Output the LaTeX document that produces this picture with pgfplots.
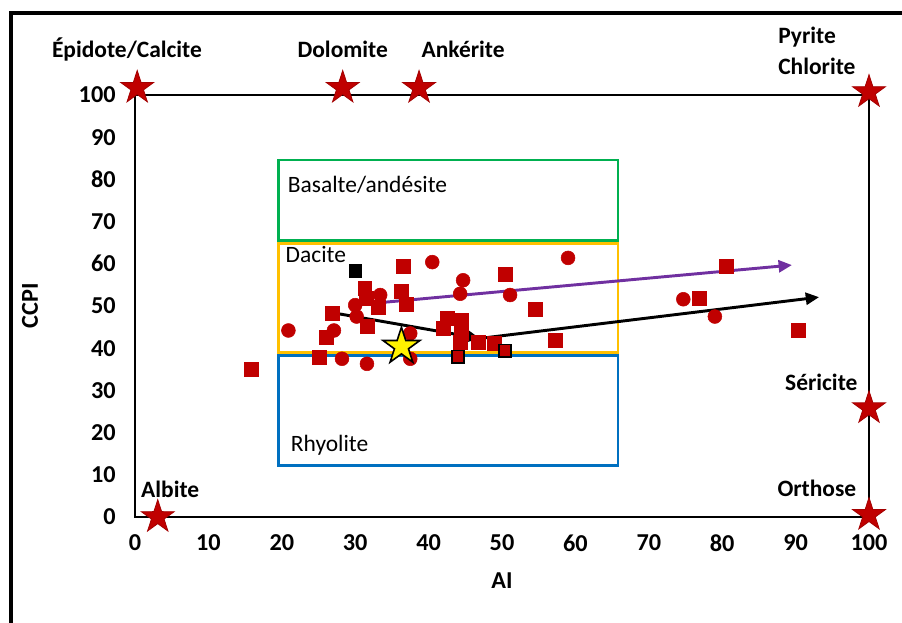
\documentclass[border=0pt]{standalone}
\usepackage{fontspec}
\setmainfont{Carlito}
\usepackage{pgfplots}
\pgfplotsset{compat=1.18}
\usetikzlibrary{arrows.meta}
\definecolor{dred}{HTML}{C00000}
\definecolor{xgreen}{HTML}{00B050}
\definecolor{xorange}{HTML}{FFC000}
\definecolor{xblue}{HTML}{0070C0}
\definecolor{xpurple}{HTML}{7030A0}
\pgfdeclareplotmark{fstar}{%
  \pgfpathmoveto{\pgfpointpolar{90}{\pgfplotmarksize}}%
  \pgfpathlineto{\pgfpointpolar{126}{0.382*\pgfplotmarksize}}%
  \pgfpathlineto{\pgfpointpolar{162}{\pgfplotmarksize}}%
  \pgfpathlineto{\pgfpointpolar{198}{0.382*\pgfplotmarksize}}%
  \pgfpathlineto{\pgfpointpolar{234}{\pgfplotmarksize}}%
  \pgfpathlineto{\pgfpointpolar{270}{0.382*\pgfplotmarksize}}%
  \pgfpathlineto{\pgfpointpolar{306}{\pgfplotmarksize}}%
  \pgfpathlineto{\pgfpointpolar{342}{0.382*\pgfplotmarksize}}%
  \pgfpathlineto{\pgfpointpolar{18}{\pgfplotmarksize}}%
  \pgfpathlineto{\pgfpointpolar{54}{0.382*\pgfplotmarksize}}%
  \pgfpathclose\pgfusepathqfillstroke}
\newcommand{\fs}{\fontsize{17.6}{21}\selectfont}
\newcommand{\ft}{\fontsize{18.2}{21}\selectfont}
\begin{document}
\begin{tikzpicture}
\begin{axis}[
  scale only axis, width=550.5pt, height=316.5pt,
  xmin=0, xmax=100, ymin=0, ymax=100,
  xtick={0,10,...,100}, ytick={0,10,...,100},
  major tick length=0pt,
  axis line style={black, line width=1.5pt},
  /pgf/number format/assume math mode=true,
  ticklabel style={font=\ft\bfseries},
  xticklabel style={yshift=-10pt},
  yticklabel style={xshift=-11pt},
  xlabel={AI}, ylabel={CCPI},
  label style={font=\ft\bfseries},
  xlabel style={at={(axis description cs:0.5,-0.1517)}, anchor=center},
  ylabel style={at={(axis description cs:-0.1431,0.5)}, anchor=center},
  clip=false,
]
\coordinate (O) at (rel axis cs:0,0);
% rock-type fields
\addplot[xgreen, line width=2.2pt, line cap=rect, mark=none] coordinates {(19.5,65.6) (65.8,65.6) (65.8,84.6) (19.5,84.6) (19.5,65.6)};
\addplot[xorange, line width=2.2pt, line cap=rect, mark=none] coordinates {(19.5,39.0) (65.8,39.0) (65.8,64.9) (19.5,64.9) (19.5,39.0)};
\addplot[xblue, line width=2.2pt, line cap=rect, mark=none] coordinates {(19.5,12.3) (65.8,12.3) (65.8,38.2) (19.5,38.2) (19.5,12.3)};
\node[anchor=west, inner sep=0pt, font=\fs] at (axis cs:20.8,78.7) {Basalte/andésite};
\node[anchor=west, inner sep=0pt, font=\fs] at (axis cs:20.5,62.1) {Dacite};
\node[anchor=west, inner sep=0pt, font=\fs] at (axis cs:21.2,17.1) {Rhyolite};
% red circles
\addplot[only marks, mark=*, mark size=5.2pt, color=dred, mark options={draw=dred, fill=dred}] coordinates {
(20.9,44.2) (27.1,44.2) (30.0,50.2) (30.2,47.5) (33.4,52.6) (28.2,37.5) (31.6,36.3)
(37.5,43.5) (37.5,37.5) (40.5,60.4) (44.7,56.1) (44.3,52.9) (51.1,52.6) (59.0,61.4)
(74.7,51.6) (79.0,47.5)};
% red squares
\addplot[only marks, mark=square*, mark size=5.2pt, color=dred, mark options={draw=dred, fill=dred}] coordinates {
(15.8,35.1) (25.1,37.8) (26.1,42.6) (26.9,48.3) (31.3,54.2) (31.5,51.8) (31.7,45.3)
(33.1,49.7) (36.6,59.4) (36.3,53.5) (36.9,50.5) (42.5,47.1) (44.5,46.7) (42.0,44.7)
(44.5,43.5) (44.3,41.5) (46.8,41.5) (49.0,41.2) (50.4,57.5) (54.5,49.2) (57.3,41.9)
(76.9,51.8) (80.5,59.5) (90.4,44.3)};
% red squares with black outline
\addplot[only marks, mark=square*, mark size=4.6pt, mark options={draw=black, fill=dred, line width=1.2pt}] coordinates {
(44.0,38.0) (50.4,39.4)};
% black square
\addplot[only marks, mark=square*, mark size=4.8pt, mark options={draw=black, fill=black}] coordinates {(30.0,58.4)};
% trend arrows
\addplot[xpurple, line width=2.2pt, mark=none, -{Triangle[length=10pt,width=9pt]}] coordinates {(30.9,50.4) (89.5,59.7)};
\addplot[black, line width=2.2pt, mark=none, -{Triangle[length=10pt,width=9pt]}] coordinates {(26.3,48.6) (47.0,42.3)};
\addplot[black, line width=2.2pt, mark=none, -{Triangle[length=10pt,width=9pt]}] coordinates {(46.9,42.3) (93.2,52.1)};
% yellow star
\addplot[only marks, mark=fstar, mark size=14.5pt, mark options={draw=black, fill=yellow, line width=1.2pt}] coordinates {(36.3,40.4)};
% end-member minerals
\addplot[only marks, mark=fstar, mark size=13pt, mark options={draw=dred!85!black, fill=dred, line width=0.6pt}] coordinates {
(0.3,101.7) (28.3,101.7) (38.7,101.7) (100,100.7) (100,25.8) (100,0.5) (3.1,0)};
\node[font=\fs\bfseries] at (axis cs:-1.1,110.7) {Épidote/Calcite};
\node[font=\fs\bfseries] at (axis cs:28.3,110.7) {Dolomite};
\node[font=\fs\bfseries] at (axis cs:44.7,110.7) {Ankérite};
\node[font=\fs\bfseries, anchor=west, inner sep=0pt] at (axis cs:87.6,113.7) {Pyrite};
\node[font=\fs\bfseries, anchor=west, inner sep=0pt] at (axis cs:87.6,106.9) {Chlorite};
\node[font=\fs\bfseries] at (axis cs:93.5,31.8) {Séricite};
\node[font=\fs\bfseries] at (axis cs:92.9,6.9) {Orthose};
\node[font=\fs\bfseries] at (axis cs:4.8,6.6) {Albite};
\end{axis}
\path[use as bounding box] (O) ++(-101.25pt,-78.75pt) rectangle ++(676.5pt,466.5pt);
\draw[line width=2.6pt, black] (O) ++(-93pt,-90pt) -- ++(0pt,468pt) -- ++(680pt,0pt);
\end{tikzpicture}
\end{document}
